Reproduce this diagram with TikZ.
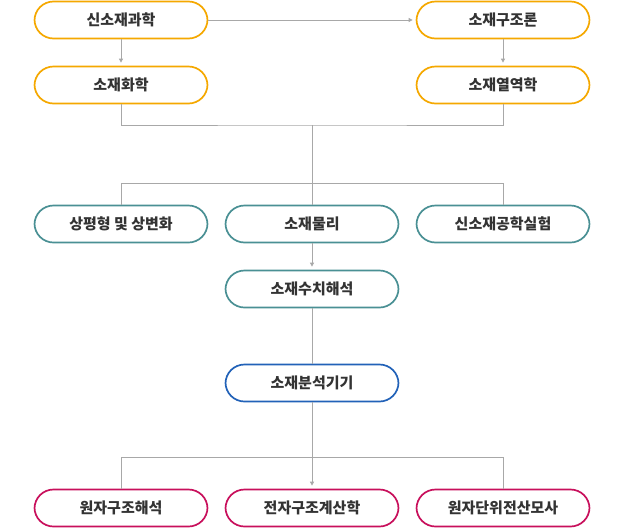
\documentclass[tikz,border=0pt]{standalone}
\usepackage{fontspec}
\setmainfont{Noto Sans CJK KR}
\usetikzlibrary{arrows.meta}
\definecolor{orangeline}{HTML}{F5A800}
\definecolor{tealline}{HTML}{4A9094}
\definecolor{blueline}{HTML}{2262B8}
\definecolor{redline}{HTML}{C8105C}
\definecolor{linkgray}{HTML}{A8A8A8}
\tikzset{
	course/.style={shape=rectangle, rounded corners=19pt, line width=1.7pt, fill=white,
		minimum width=173pt, minimum height=37pt, font=\fontsize{15}{18}\selectfont\bfseries, text=black!80},
	link/.style={draw=linkgray, line width=0.8pt},
	arrowlink/.style={link, -{Triangle[length=4pt,width=4pt]}, shorten >=3pt},
}
\begin{document}
\begin{tikzpicture}[x=1pt,y=-1pt]
	\useasboundingbox (0,0) rectangle (624,528);
	
	\node[course,draw=orangeline] (a) at (121, 20)  {신소재과학};
	\node[course,draw=orangeline] (b) at (503, 20)  {소재구조론};
	\node[course,draw=orangeline] (c) at (121, 85)  {소재화학};
	\node[course,draw=orangeline] (d) at (503, 85)  {소재열역학};
	\node[course,draw=tealline]   (e) at (121, 224) {상평형 및 상변화};
	\node[course,draw=tealline]   (f) at (312, 224) {소재물리};
	\node[course,draw=tealline]   (g) at (503, 224) {신소재공학실험};
	\node[course,draw=tealline]   (h) at (312, 289) {소재수치해석};
	\node[course,draw=blueline]   (i) at (312, 383) {소재분석기기};
	\node[course,draw=redline]    (j) at (121, 508) {원자구조해석};
	\node[course,draw=redline]    (k) at (312, 508) {전자구조계산학};
	\node[course,draw=redline]    (l) at (503, 508) {원자단위전산모사};
	
	\coordinate (m1) at (312, 125);
	\coordinate (m2) at (312, 183);
	\coordinate (m3) at (312, 457);
	
	\draw[arrowlink] (a) -- (b);
	\draw[arrowlink] (a) -- (c);
	\draw[arrowlink] (b) -- (d);
	\draw[link] (c) |- (m1) -| (d);
	\draw[link] (m1) -- (m2);
	\draw[link] (m2) -| (e);
	\draw[link] (m2) -| (g);
	\draw[link] (m2) -- (f);
	\draw[arrowlink] (f) -- (h);
	\draw[link] (h) -- (i);
	\draw[link] (i) -- (m3);
	\draw[link] (m3) -| (j);
	\draw[link] (m3) -| (l);
	\draw[arrowlink] (m3) -- (k);
	
\end{tikzpicture}
\end{document}
